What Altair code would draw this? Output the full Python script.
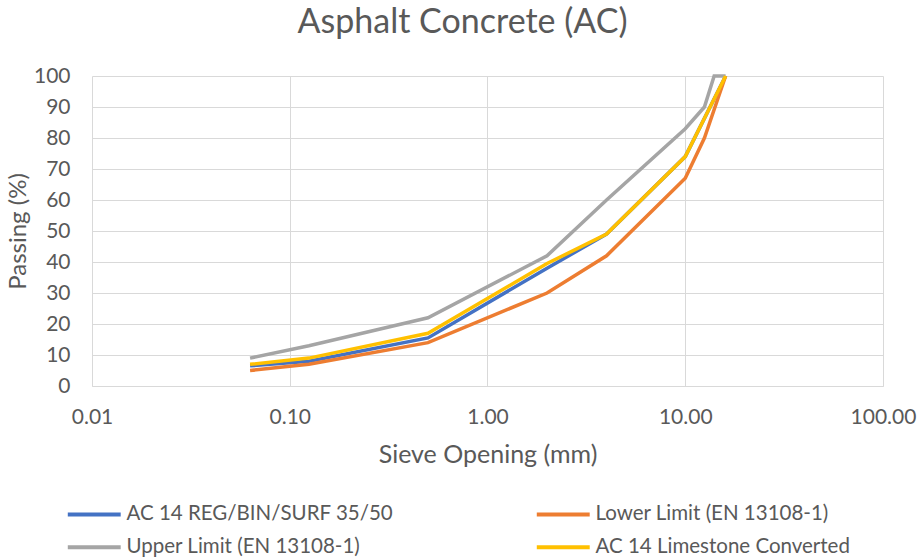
import altair as alt
import pandas as pd

series_names = [
    "AC 14 REG/BIN/SURF 35/50",
    "Lower Limit (EN 13108-1)",
    "Upper Limit (EN 13108-1)",
    "AC 14 Limestone Converted",
]
series_colors = ["#4472C4", "#ED7D31", "#A5A5A5", "#FFC000"]

ac14_sizes = [0.063, 0.125, 0.5, 2, 4, 10, 16]
ac14_pass = [6.5, 8, 15.5, 38, 49, 74, 100]

lower_sizes = [0.063, 0.125, 0.5, 2, 4, 10, 12.5, 16]
lower_pass = [5, 7, 14, 30, 42, 67, 80, 100]

upper_sizes = [0.063, 0.125, 0.5, 2, 4, 10, 12.5, 14, 16]
upper_pass = [9, 13, 22, 42, 60, 83, 90, 100, 100]

lime_sizes = [0.063, 0.125, 0.5, 2, 4, 10, 16]
lime_pass = [7, 9, 17, 39.5, 49, 74, 100]

x_ticks = [0.01, 0.1, 1, 10, 100]
y_ticks = list(range(0, 101, 10))

rows = []
for i, (name, sz, ps) in enumerate(zip(series_names,
                                        [ac14_sizes, lower_sizes, upper_sizes, lime_sizes],
                                        [ac14_pass, lower_pass, upper_pass, lime_pass])):
    for j, (s, p) in enumerate(zip(sz, ps)):
        rows.append({"series": name, "size": s, "passing": p, "k": i, "j": j})
df = pd.DataFrame(rows)

FONT = "Lato"
TXT = "#595959"
GRID = "#D9D9D9"

chart = alt.Chart(df).mark_line(strokeWidth=3.5, strokeJoin="miter").encode(
    x=alt.X("size:Q",
            scale=alt.Scale(type="log", domain=[0.01, 100]),
            axis=alt.Axis(values=x_ticks, format=".2f", title="Sieve Opening (mm)",
                          grid=True, gridColor=GRID, domainColor=GRID, ticks=False,
                          labelPadding=20, titlePadding=15, labelFontSize=21,
                          titleFontSize=25, labelColor=TXT, titleColor=TXT,
                          labelFont=FONT, titleFont=FONT, titleFontWeight="normal",
                          labelFlush=False)),
    y=alt.Y("passing:Q",
            scale=alt.Scale(domain=[0, 100], nice=False),
            axis=alt.Axis(values=y_ticks, title="Passing (%)", grid=True, gridColor=GRID,
                          domain=False, ticks=False, labelPadding=22, titlePadding=3,
                          labelFontSize=21, titleFontSize=24, labelColor=TXT,
                          titleColor=TXT, labelFont=FONT, titleFont=FONT,
                          titleFontWeight="normal")),
    color=alt.Color("series:N",
                    scale=alt.Scale(domain=series_names, range=series_colors),
                    legend=alt.Legend(title=None, orient="none", legendX=-8, legendY=428,
                                      direction="horizontal",
                                      columns=2, columnPadding=134, rowPadding=12,
                                      symbolType="M-5,0H5", symbolSize=112,
                                      symbolStrokeWidth=4, labelFontSize=20.5,
                                      labelFont=FONT, labelColor=TXT, labelOffset=22,
                                      labelLimit=400)),
    detail="k:O",
    order="j:Q",
).properties(
    width=791,
    height=310,
    title=alt.TitleParams("Asphalt Concrete (AC)", fontSize=34, font=FONT,
                          fontWeight="normal", color=TXT, offset=25, dx=-25),
    autosize=alt.AutoSizeParams(type="none"),
    padding={"left": 92, "top": 76, "right": 36, "bottom": 172},
).configure_view(stroke=None)

chart.save("out.html", embed_options={"renderer": "svg", "actions": False})
